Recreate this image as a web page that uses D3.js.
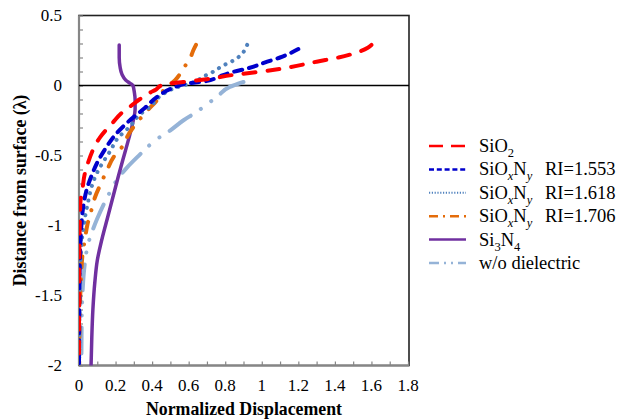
<!DOCTYPE html>
<html>
<head>
<meta charset="utf-8">
<script src="https://cdn.jsdelivr.net/npm/d3@7"></script>
<style>
  html, body { margin: 0; padding: 0; background: #fff; }
  svg text { font-family: "Liberation Serif", "DejaVu Serif", serif; }
</style>
</head>
<body>
<svg id="chart" width="638" height="419" font-family="Liberation Serif, DejaVu Serif, serif"></svg>
<script>
// ---------- data (depth in λ, normalized displacement) ----------
const xTicks = [0, 0.2, 0.4, 0.6, 0.8, 1, 1.2, 1.4, 1.6, 1.8];
const yTicks = [0.5, 0, -0.5, -1, -1.5, -2];

const sio2Depth = [0.29, 0.27, 0.245, 0.2, 0.17, 0.13, 0.10, 0.075, 0.045, 0.025, 0.012, 0.0, -0.03, -0.05, -0.1, -0.14, -0.2, -0.265, -0.3, -0.37, -0.45, -0.55, -0.64, -0.73, -0.83, -1.0, -1.2, -1.5, -1.8, -2.0];
const sio2Disp  = [1.60, 1.58, 1.54, 1.42, 1.30, 1.15, 1.00, 0.84, 0.70, 0.57, 0.49, 0.45, 0.42, 0.39, 0.33, 0.29, 0.23, 0.185, 0.16, 0.115, 0.08, 0.05, 0.03, 0.02, 0.008, 0.004, 0.002, 0.001, 0.0, 0.0];

const ri1553Depth = [0.26, 0.2, 0.17, 0.125, 0.096, 0.06, 0.03, 0.018, -0.02, -0.07, -0.16, -0.27, -0.35, -0.45, -0.55, -0.64, -0.73, -0.85, -1.0, -1.2, -1.5, -1.8, -2.0];
const ri1553Disp  = [1.20, 1.10, 1.03, 0.93, 0.84, 0.76, 0.69, 0.61, 0.51, 0.44, 0.36, 0.26, 0.20, 0.145, 0.10, 0.07, 0.045, 0.025, 0.013, 0.006, 0.002, 0.001, 0.0];

const ri1618Depth = [0.29, 0.24, 0.2, 0.175, 0.15, 0.12, 0.095, 0.07, 0.025, -0.02, -0.07, -0.15, -0.21, -0.29, -0.38, -0.47, -0.53, -0.62, -0.72, -0.83, -0.94, -1.1, -1.3, -1.6, -2.0];
const ri1618Disp  = [0.92, 0.90, 0.87, 0.84, 0.80, 0.76, 0.73, 0.69, 0.63, 0.52, 0.45, 0.39, 0.33, 0.28, 0.21, 0.17, 0.14, 0.10, 0.07, 0.05, 0.033, 0.016, 0.008, 0.003, 0.001];

const ri1706Depth = [0.29, 0.25, 0.2, 0.12, 0.06, 0.02, 0.0, -0.05, -0.10, -0.17, -0.26, -0.34, -0.44, -0.51, -0.6, -0.7, -0.8, -0.88, -1.0, -1.1, -1.2, -1.35, -1.5, -1.7, -2.0];
const ri1706Disp  = [0.64, 0.625, 0.61, 0.57, 0.54, 0.51, 0.48, 0.455, 0.43, 0.38, 0.32, 0.275, 0.235, 0.19, 0.155, 0.12, 0.087, 0.07, 0.045, 0.032, 0.02, 0.012, 0.007, 0.003, 0.001];

const si3n4Depth = [0.29, 0.2, 0.13, 0.08, 0.04, 0.015, 0.0, -0.05, -0.1, -0.17, -0.25, -0.39, -0.53, -0.65, -0.8, -0.95, -1.1, -1.25, -1.4, -1.6, -1.8, -2.0];
const si3n4Disp  = [0.22, 0.22, 0.225, 0.235, 0.255, 0.28, 0.295, 0.303, 0.307, 0.307, 0.297, 0.27, 0.24, 0.215, 0.185, 0.155, 0.125, 0.10, 0.087, 0.076, 0.07, 0.066];

const bareDepth = [0.025, -0.01, -0.075, -0.2, -0.25, -0.32, -0.38, -0.51, -0.59, -0.67, -0.76, -0.95, -1.05, -1.13, -1.26, -1.46, -1.6, -1.8, -2.0];
const bareDisp  = [0.90, 0.825, 0.76, 0.63, 0.57, 0.50, 0.43, 0.32, 0.26, 0.21, 0.17, 0.10, 0.07, 0.05, 0.033, 0.02, 0.016, 0.014, 0.013];

const seriesNames = ["SiO2", "SiOxNy RI=1.553", "SiOxNy RI=1.618", "SiOxNy RI=1.706", "Si3N4", "w/o dielectric"];

// ---------- styles ----------
const series = [
  { name: seriesNames[0], depth: sio2Depth,   disp: sio2Disp,   color: "#FF0000", w: 4,   dash: "12,12", cap: "round", lw: 2.5, ldash: "14,8",  lcap: "butt" },
  { name: seriesNames[1], depth: ri1553Depth, disp: ri1553Disp, color: "#0000CC", w: 4,   dash: "8,7",   cap: "round", lw: 2.5, ldash: "5,2.8", lcap: "butt" },
  { name: seriesNames[2], depth: ri1618Depth, disp: ri1618Disp, color: "#4F81BD", w: 4,   dash: "0.1,7.4", cap: "round", lw: 2, ldash: "1.2,1.6", lcap: "butt" },
  { name: seriesNames[3], depth: ri1706Depth, disp: ri1706Disp, color: "#E46C0A", w: 4,   dash: "11,12,0.1,12", cap: "round", lw: 2.5, ldash: "9,5,2,5", lcap: "butt" },
  { name: seriesNames[4], depth: si3n4Depth,  disp: si3n4Disp,  color: "#7030A0", w: 3.5, dash: null,    cap: "round", lw: 2.5, ldash: null,    lcap: "butt" },
  { name: seriesNames[5], depth: bareDepth,   disp: bareDisp,   color: "#95B3D7", w: 4,   dash: "26,12,0.1,13,0.1,12", cap: "round", lw: 2.5, ldash: "10,5,2,5,2,5", lcap: "butt" }
];

(function () {
const FONT = "Liberation Serif, DejaVu Serif, serif";
const svg = d3.select("#chart");
const pL = 79, pR = 409, pT = 15.5, pB = 365.5;

const x = d3.scaleLinear().domain([0, 1.8]).range([pL, pR - 1]);
const y = d3.scaleLinear().domain([-2, 0.5]).range([pB, pT]);

svg.append("rect")
  .attr("x", pL).attr("y", pT)
  .attr("width", pR - pL).attr("height", pB - pT)
  .attr("fill", "none").attr("stroke", "#222").attr("stroke-width", 1.6);

const gridColor = "#868686";
const xAxis = d3.axisBottom(x).tickValues(d3.range(0, 1.8001, 0.1)).tickSize(-4).tickFormat("");
svg.append("g").attr("transform", `translate(0,${pB})`).call(xAxis)
  .call(g => { g.select(".domain").attr("stroke", gridColor).attr("stroke-width", 2.2).attr("d", `M${pL},0H${pR}`);
               g.selectAll(".tick line").attr("stroke", gridColor).attr("stroke-width", 1.2); });

const yAxis = d3.axisLeft(y).tickValues(d3.range(-2, 0.5001, 0.1)).tickSize(-4).tickFormat("");
svg.append("g").attr("transform", `translate(${pL},0)`).call(yAxis)
  .call(g => { g.select(".domain").attr("stroke", gridColor).attr("stroke-width", 2.2).attr("d", `M0,${pT}V${pB}`);
               g.selectAll(".tick line").attr("stroke", gridColor).attr("stroke-width", 1.2); });

svg.append("g").selectAll("text").data(xTicks).join("text")
  .attr("x", d => x(d)).attr("y", 391)
  .attr("font-family", FONT)
  .attr("text-anchor", "middle").attr("font-size", 17).attr("fill", "#000")
  .text(d => String(d));

svg.append("g").selectAll("text").data(yTicks).join("text")
  .attr("x", 62).attr("y", d => y(d) + 5.5)
  .attr("font-family", FONT)
  .attr("text-anchor", "end").attr("font-size", 17).attr("fill", "#000")
  .text(d => d < 0 ? "-" + String(Math.abs(d)) : String(d));

svg.append("line")
  .attr("x1", pL).attr("x2", pR)
  .attr("y1", y(0)).attr("y2", y(0))
  .attr("stroke", "#000").attr("stroke-width", 1.6);

svg.append("text")
  .attr("x", (pL + pR) / 2).attr("y", 415)
  .attr("font-family", FONT)
  .attr("text-anchor", "middle").attr("font-size", 17.8).attr("font-weight", "bold")
  .text("Normalized Displacement");

svg.append("text")
  .attr("transform", `translate(26,${(pT + pB) / 2}) rotate(-90)`)
  .attr("font-family", FONT)
  .attr("text-anchor", "middle").attr("font-size", 17.8).attr("font-weight", "bold")
  .text("Distance from surface (λ)");

const clip = svg.append("clipPath").attr("id", "plotclip");
clip.append("rect").attr("x", pL).attr("y", pT).attr("width", pR - pL).attr("height", pB - pT);

const line = d3.line().x(d => x(d[1])).y(d => y(d[0])).curve(d3.curveMonotoneY);

const plotG = svg.append("g").attr("clip-path", "url(#plotclip)");
const order = [5, 4, 3, 2, 1, 0];
order.forEach(i => {
  const s = series[i];
  const pts = s.depth.map((dv, k) => [dv, s.disp[k]]);
  plotG.append("path")
    .attr("d", line(pts))
    .attr("fill", "none")
    .attr("stroke", s.color)
    .attr("stroke-width", s.w)
    .attr("stroke-linecap", s.cap)
    .attr("stroke-linejoin", "round")
    .attr("stroke-dasharray", s.dash);
});

const legY0 = 146, legDy = 23.4;
const lg = svg.append("g");
series.forEach((s, i) => {
  const yy = legY0 + i * legDy;
  lg.append("line")
    .attr("x1", 429).attr("x2", 466).attr("y1", yy).attr("y2", yy)
    .attr("stroke", s.color).attr("stroke-width", s.lw)
    .attr("stroke-linecap", s.lcap)
    .attr("stroke-dasharray", s.ldash);
});

function addLabel(yy, parts, ri) {
  const t = lg.append("text").attr("x", 479).attr("y", yy + 6).attr("font-family", FONT).attr("font-size", 18.5).attr("fill", "#000");
  parts.forEach(p => {
    const ts = t.append("tspan").text(p.t);
    if (p.sub) {
      ts.attr("font-size", 12.5).attr("dy", 5);
      if (p.it) ts.attr("font-style", "italic");
    } else if (p.after) {
      ts.attr("dy", -5);
    }
  });
  if (ri) {
    lg.append("text").attr("x", 545).attr("y", yy + 6).attr("font-family", FONT).attr("font-size", 18.5).attr("fill", "#000").text(ri);
  }
}

addLabel(legY0, [{t: "SiO"}, {t: "2", sub: true}]);
addLabel(legY0 + legDy, [{t: "SiO"}, {t: "x", sub: true, it: true}, {t: "N", after: true}, {t: "y", sub: true, it: true}], "RI=1.553");
addLabel(legY0 + 2 * legDy, [{t: "SiO"}, {t: "x", sub: true, it: true}, {t: "N", after: true}, {t: "y", sub: true, it: true}], "RI=1.618");
addLabel(legY0 + 3 * legDy, [{t: "SiO"}, {t: "x", sub: true, it: true}, {t: "N", after: true}, {t: "y", sub: true, it: true}], "RI=1.706");
addLabel(legY0 + 4 * legDy, [{t: "Si"}, {t: "3", sub: true}, {t: "N", after: true}, {t: "4", sub: true}]);
addLabel(legY0 + 5 * legDy, [{t: "w/o dielectric"}]);
})();
</script>
</body>
</html>
